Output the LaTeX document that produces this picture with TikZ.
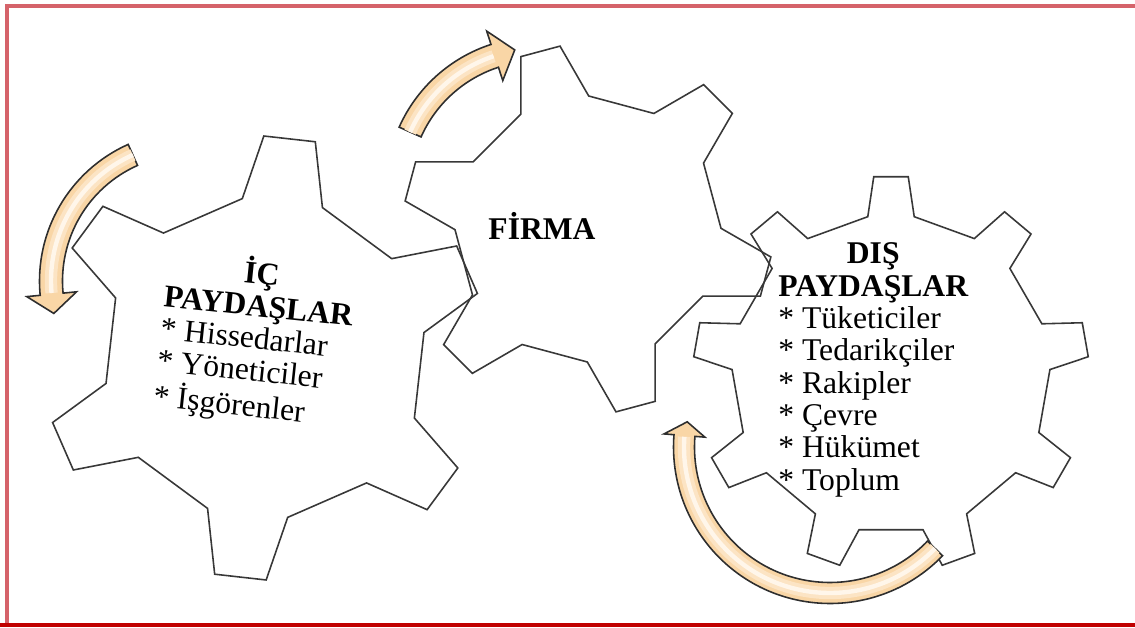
\documentclass[tikz,border=0pt]{standalone}
\usepackage{fontspec}
\setmainfont{Liberation Serif}
\usepackage{tikz}
\definecolor{cGear}{HTML}{383838}
\definecolor{cEdge}{HTML}{2E2E2E}
\definecolor{cArrow}{HTML}{F9D6A6}
\definecolor{cArrowMid}{HTML}{FCE4C4}
\definecolor{cArrowHi}{HTML}{FFF6EA}
\definecolor{cFrame}{HTML}{D5636A}
\definecolor{cFrameB}{HTML}{C00000}

\begin{document}
\begin{tikzpicture}[
  x=0.02cm, y=0.02cm,
  gear/.style={draw=cGear, line width=0.9pt},
  curlarrow/.style={fill=cArrow, draw=cEdge, line width=0.9pt},
  glow/.style={draw=cArrowMid, line width=7pt},
  glowc/.style={draw=cArrowHi, line width=2.5pt},
  lbl/.style={font=\fontsize{18}{18.4}\selectfont, inner sep=0pt, text=black},
]
\useasboundingbox (0,0) rectangle (1135,628);

% ---------------- frame ----------------
\draw[cFrame, line width=2.6pt] (1145,622) -- (7,622) -- (7,2);
\draw[cFrameB, line width=1.9pt] (0,3) -- (1145,3);

% ---------------- gears ----------------
\begin{scope}[shift={(265,270)}]
  \draw[gear] (69.1:161)
    \foreach \a in {83.6,143.6,203.6,263.6,323.6,383.6}
      { -- (\a-14.5:161) -- (\a-6.7:222) -- (\a+6.7:222) -- (\a+14.5:161) } -- cycle;
\end{scope}

\begin{scope}[shift={(588,399)}]
  \draw[gear] (89.7:133)
    \foreach \a in {105,165,225,285,345,405}
      { -- (\a-15.3:133) -- (\a-6.3:185) -- (\a+6.3:185) -- (\a+15.3:133) } -- cycle;
\end{scope}

\begin{scope}[shift={(891,254)}]
  \draw[gear] (81.6:159)
    \foreach \a in {90,130,170,210,250,290,330,370,410}
      { -- (\a-8.4:159) -- (\a-5:198) -- (\a+5:198) -- (\a+8.4:159) } -- cycle;
\end{scope}

% ---------------- curved arrows ----------------
\begin{scope}[shift={(538,439)}]
  \draw[curlarrow] (156:152) arc[start angle=156, end angle=108, radius=152]
    -- (108:166) -- (99.5:141) -- (108:114) -- (108:128)
    arc[start angle=108, end angle=156, radius=128] -- cycle;
  \draw[glow] (156:140) arc[start angle=156, end angle=108.5, radius=140];
  \draw[glowc] (156:140) arc[start angle=156, end angle=108.5, radius=140];
\end{scope}

\begin{scope}[shift={(189,347)}]
  \draw[curlarrow] (114:149.5) arc[start angle=114, end angle=185.5, radius=149.5]
    -- (185.5:163) -- (193.5:139) -- (185.5:113) -- (185.5:126.5)
    arc[start angle=185.5, end angle=114, radius=126.5] -- cycle;
  \draw[glow] (114:138) arc[start angle=114, end angle=185, radius=138];
  \draw[glowc] (114:138) arc[start angle=114, end angle=185, radius=138];
\end{scope}

\begin{scope}[shift={(830,181)}]
  \draw[curlarrow] (-44:156.5) arc[start angle=-44, end angle=-184.5, radius=156.5]
    -- (-184.5:166.5) -- (-190:145) -- (-184.5:125.5) -- (-184.5:135.5)
    arc[start angle=-184.5, end angle=-44, radius=135.5] -- cycle;
  \draw[glow] (-44:146) arc[start angle=-44, end angle=-184, radius=146];
  \draw[glowc] (-44:146) arc[start angle=-44, end angle=-184, radius=146];
\end{scope}

% ---------------- labels ----------------
\node (firma) [lbl, anchor=base] at (542,388.5) {\bfseries FİRMA};

\node (ic) [lbl, anchor=north west, rotate=-6] at (169,381) {%
  \begin{tabular}{@{}l@{}}
    \multicolumn{1}{@{}c@{}}{\bfseries İÇ}\\
    \bfseries PAYDAŞLAR\\
    {*} Hissedarlar\\
    {*} Yöneticiler\\
    {*} İşgörenler
  \end{tabular}};

\node (dis) [lbl, anchor=north west] at (778,387) {%
  \begin{tabular}{@{}l@{}}
    \multicolumn{1}{@{}c@{}}{\bfseries DIŞ}\\
    \bfseries PAYDAŞLAR\\
    {*} Tüketiciler\\
    {*} Tedarikçiler\\
    {*} Rakipler\\
    {*} Çevre\\
    {*} Hükümet\\
    {*} Toplum
  \end{tabular}};

\end{tikzpicture}
\end{document}
